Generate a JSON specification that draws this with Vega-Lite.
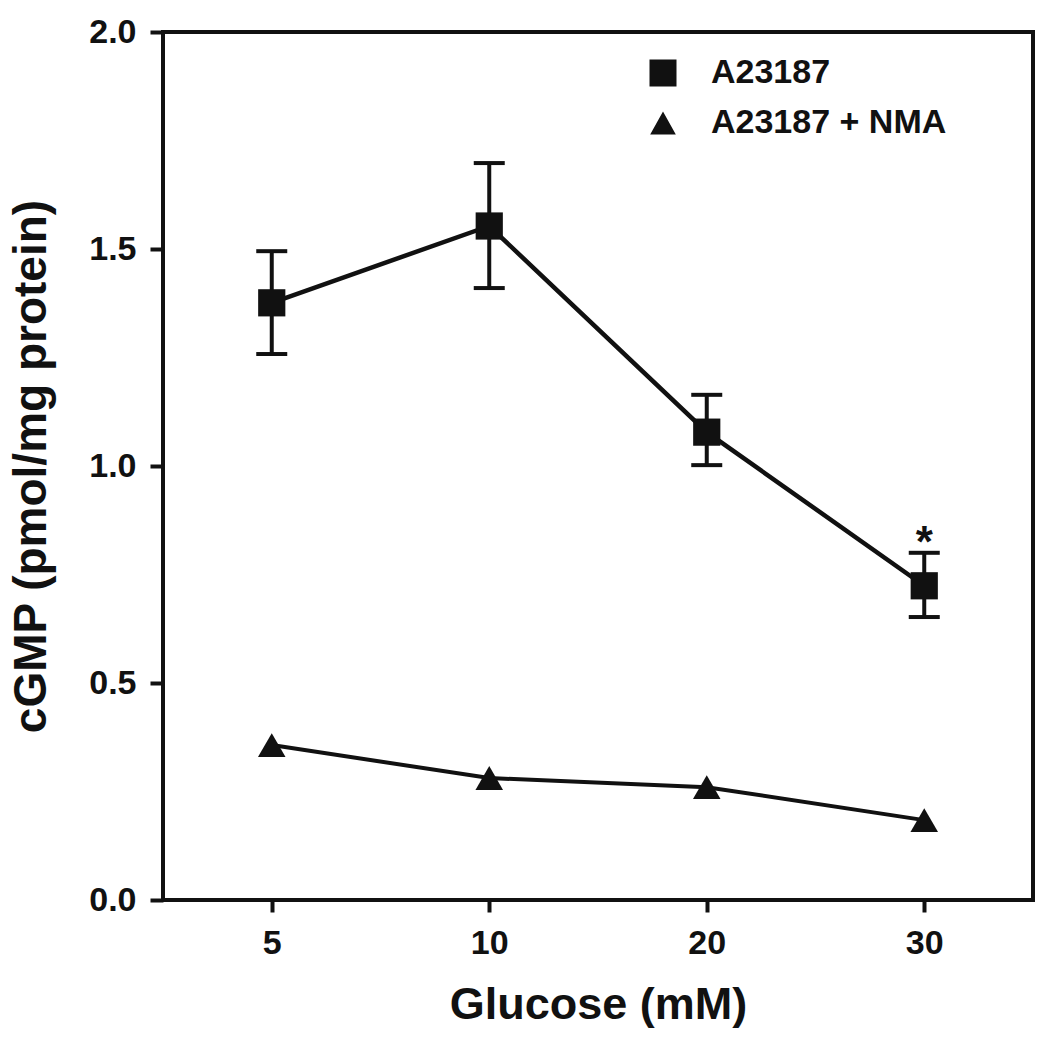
{
  "$schema": "https://vega.github.io/schema/vega-lite/v6.json",
  "autosize": {"type": "none"},
  "padding": {"left": 163, "top": 32, "right": 17, "bottom": 147},
  "width": 870,
  "height": 868,
  "background": "white",
  "config": {
    "view": {"stroke": "#111", "strokeWidth": 4},
    "font": "Liberation Sans",
    "axis": {
      "domain": false,
      "grid": false,
      "tickColor": "#111",
      "tickWidth": 4,
      "labelFont": "Liberation Sans",
      "labelFontWeight": "bold",
      "labelColor": "#111",
      "titleFont": "Liberation Sans",
      "titleFontWeight": "bold",
      "titleColor": "#111"
    }
  },
  "datasets": {
    "pts": [
      {"glucose": "5", "series": "A23187", "mean": 1.376, "lo": 1.258, "hi": 1.495},
      {"glucose": "10", "series": "A23187", "mean": 1.553, "lo": 1.41, "hi": 1.698},
      {"glucose": "20", "series": "A23187", "mean": 1.078, "lo": 1.002, "hi": 1.164},
      {"glucose": "30", "series": "A23187", "mean": 0.724, "lo": 0.652, "hi": 0.8},
      {"glucose": "5", "series": "A23187 + NMA", "mean": 0.357},
      {"glucose": "10", "series": "A23187 + NMA", "mean": 0.281},
      {"glucose": "20", "series": "A23187 + NMA", "mean": 0.26},
      {"glucose": "30", "series": "A23187 + NMA", "mean": 0.184}
    ],
    "notes": [
      {"glucose": "30", "label": "*", "y": 0.79}
    ]
  },
  "encoding": {
    "x": {
      "field": "glucose",
      "type": "ordinal",
      "sort": ["5", "10", "20", "30"],
      "scale": {"type": "point", "padding": 0.5},
      "axis": {
        "title": "Glucose (mM)",
        "labelAngle": 0,
        "labelFontSize": 34,
        "labelPadding": 14,
        "tickSize": 12,
        "titleFontSize": 45,
        "titlePadding": 22
      }
    }
  },
  "layer": [
    {
      "data": {"name": "pts"},
      "transform": [{"filter": "datum.series === 'A23187'"}],
      "mark": {"type": "line", "color": "#111", "strokeWidth": 4.5},
      "encoding": {
        "y": {
          "field": "mean",
          "type": "quantitative",
          "scale": {"domain": [0, 2], "nice": false},
          "axis": {
            "title": "cGMP (pmol/mg protein)",
            "values": [0, 0.5, 1, 1.5, 2],
            "format": ".1f",
            "labelFontSize": 34,
            "labelPadding": 14,
            "tickSize": 13,
            "titleFontSize": 46,
            "titlePadding": 33
          }
        }
      }
    },
    {
      "data": {"name": "pts"},
      "transform": [{"filter": "datum.series === 'A23187 + NMA'"}],
      "mark": {"type": "line", "color": "#111", "strokeWidth": 4},
      "encoding": {
        "y": {"field": "mean", "type": "quantitative"}
      }
    },
    {
      "data": {"name": "pts"},
      "transform": [{"filter": "isValid(datum.lo)"}],
      "mark": {"type": "rule", "color": "#111", "strokeWidth": 4, "opacity": 1},
      "encoding": {
        "y": {"field": "lo", "type": "quantitative"},
        "y2": {"field": "hi"}
      }
    },
    {
      "data": {"name": "pts"},
      "transform": [{"filter": "isValid(datum.lo)"}],
      "mark": {"type": "tick", "color": "#111", "size": 31, "thickness": 4, "orient": "horizontal", "opacity": 1},
      "encoding": {"y": {"field": "lo", "type": "quantitative"}}
    },
    {
      "data": {"name": "pts"},
      "transform": [{"filter": "isValid(datum.hi)"}],
      "mark": {"type": "tick", "color": "#111", "size": 31, "thickness": 4, "orient": "horizontal", "opacity": 1},
      "encoding": {"y": {"field": "hi", "type": "quantitative"}}
    },
    {
      "data": {"name": "pts"},
      "transform": [{"filter": "datum.series === 'A23187'"}],
      "mark": {"type": "point", "shape": "square", "filled": true, "color": "#111", "opacity": 1, "size": 740, "strokeWidth": 0},
      "encoding": {"y": {"field": "mean", "type": "quantitative"}}
    },
    {
      "data": {"name": "pts"},
      "transform": [{"filter": "datum.series === 'A23187 + NMA'"}],
      "mark": {"type": "point", "shape": "triangle-up", "filled": true, "color": "#111", "opacity": 1, "size": 760, "strokeWidth": 0},
      "encoding": {"y": {"field": "mean", "type": "quantitative"}}
    },
    {
      "data": {"name": "pts"},
      "transform": [{"filter": "datum.mean < 0"}],
      "mark": {"type": "point", "filled": true, "color": "#111", "size": 729, "opacity": 1},
      "encoding": {
        "y": {"field": "mean", "type": "quantitative"},
        "shape": {
          "field": "series",
          "type": "nominal",
          "title": null,
          "scale": {
            "domain": ["A23187", "A23187 + NMA"],
            "range": [
              "M-2.4,0H2.4M-1,-1H1V1H-1Z",
              "M-2.4,0H2.4M0,-0.85L0.95,0.85H-0.95Z"
            ]
          },
          "legend": {
            "orient": "none",
            "legendX": 483,
            "legendY": 24,
            "padding": 0,
            "symbolSize": 729,
            "symbolFillColor": "#111",
            "symbolStrokeColor": "#111",
            "symbolStrokeWidth": 4,
            "symbolOpacity": 1,
            "labelFont": "Liberation Sans",
            "labelFontWeight": "bold",
            "labelFontSize": 34,
            "labelColor": "#111",
            "labelOffset": 31,
            "labelLimit": 0,
            "rowPadding": 8
          }
        }
      }
    },
    {
      "data": {"name": "notes"},
      "mark": {"type": "text", "font": "Liberation Sans", "fontWeight": "bold", "fontSize": 44, "color": "#111", "baseline": "alphabetic"},
      "encoding": {
        "y": {"field": "y", "type": "quantitative"},
        "text": {"field": "label"}
      }
    }
  ]
}
